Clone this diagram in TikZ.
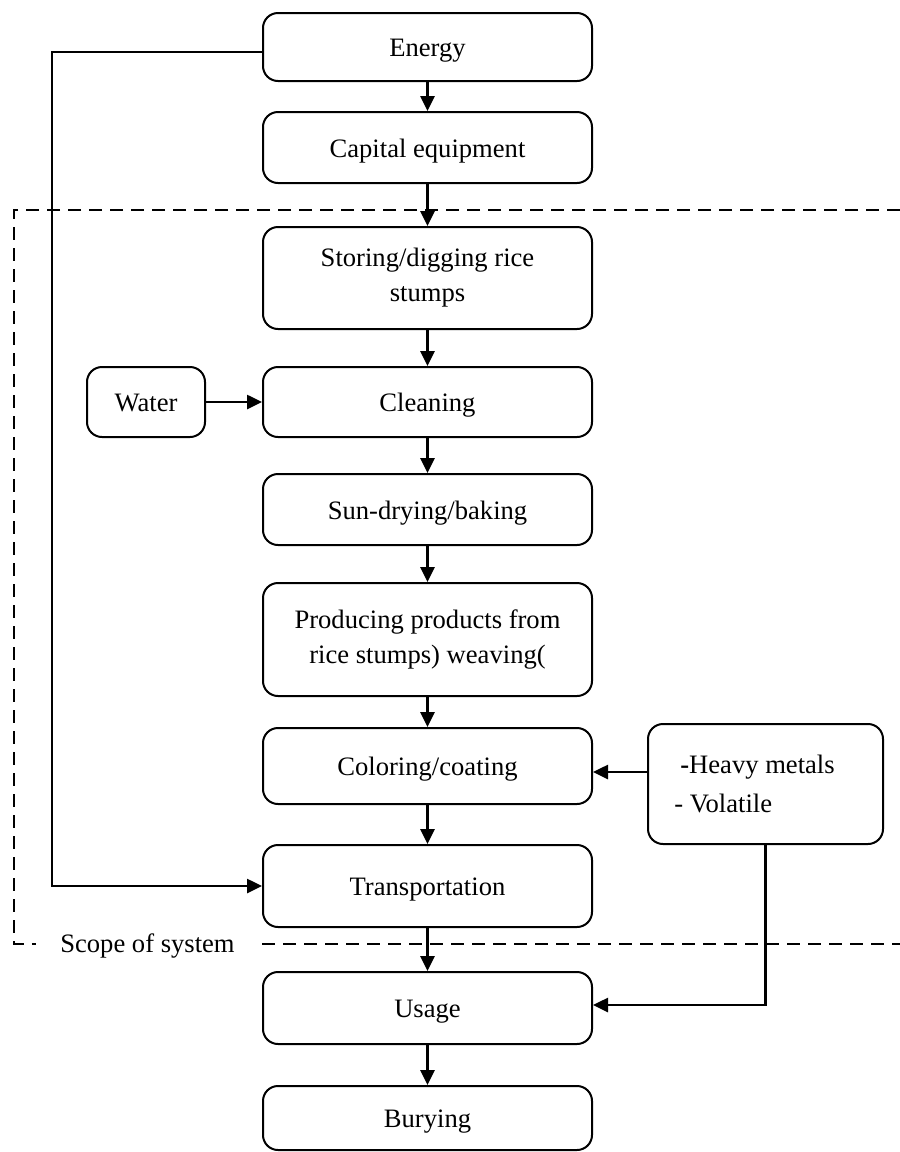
\documentclass[tikz,border=0pt]{standalone}
\usepackage{fontspec}
\setmainfont{Liberation Serif}
\usetikzlibrary{arrows.meta}

\begin{document}
\begin{tikzpicture}[x=0.5pt,y=-0.5pt,
    arr/.style={draw,line width=1.3pt,-{Triangle[length=7.5pt,width=7pt]}},
    scopeline/.style={line width=1.2pt,dash pattern=on 6.5pt off 4pt},
    oneline/.style={text height=12pt,text depth=2.5pt}]

      \useasboundingbox (0,0) rectangle (900,1152);

      \begin{scope}[every node/.style={draw,line width=1pt,rounded corners=7.5pt,
          minimum width=164.5pt,align=center,inner sep=2pt,
          font=\fontsize{13.3}{17.5}\selectfont}]
        \node[oneline,minimum height=34pt]   (energy)    at (427.5,47)   {Energy};
        \node[oneline,minimum height=35.5pt] (capital)   at (427.5,147.5) {Capital equipment};
        \node[minimum height=51pt]           (storing)   at (427.5,278)  {Storing/digging rice\\stumps};
        \node[oneline,minimum height=35pt]   (cleaning)  at (427.5,402)  {Cleaning};
        \node[oneline,minimum height=35pt,minimum width=59pt] (water) at (146,402) {Water};
        \node[oneline,minimum height=35.5pt] (drying)    at (427.5,509.5) {Sun-drying/baking};
        \node[minimum height=56.5pt]         (producing) at (427.5,639.5) {Producing products from\\rice stumps) weaving(};
        \node[oneline,minimum height=38pt]   (coloring)  at (427.5,766)  {Coloring/coating};
        \node[minimum height=60pt,minimum width=117.5pt,align=left,
          font=\fontsize{13.3}{19.5}\selectfont] (metals) at (765.5,784)
          {{\bfseries -}Heavy metals\hspace*{8pt}\\\hspace*{-3pt}- Volatile};
        \node[oneline,minimum height=41pt]   (transport) at (427.5,886)  {Transportation};
        \node[oneline,minimum height=36pt]   (usage)     at (427.5,1008) {Usage};
        \node[oneline,minimum height=32pt]   (burying)   at (427.5,1118) {Burying};
      \end{scope}

      % system boundary
      \draw[scopeline] (900,210) -- (14,210) -- (14,944) -- (36,944);
      \draw[scopeline] (262,944) -- (900,944);
      \node[font=\fontsize{13.3}{16}\selectfont,inner sep=0pt,oneline] (scopelabel) at (147.5,943) {Scope of system};

      \coordinate (ecorner) at (52,52);
      \coordinate (mcorner) at (765.5,1005);

      \begin{scope}[every edge/.style={arr}]
        \path (energy)    edge (capital);
        \path (capital)   edge (storing);
        \path (storing)   edge (cleaning);
        \path (water)     edge (cleaning);
        \path (cleaning)  edge (drying);
        \path (drying)    edge (producing);
        \path (producing) edge (coloring);
        \path (coloring)  edge (transport);
        \path (transport) edge (usage);
        \path (usage)     edge (burying);
        \path ([yshift=6pt]metals.west) edge ([yshift=6pt]metals.west -| coloring.east);
      \end{scope}

      \draw[arr] (ecorner -| energy.west) -- (ecorner) |- (transport.west);
      \draw[arr] (metals.south) -- (mcorner) -- (mcorner -| usage.east);

    \end{tikzpicture}
\end{document}
